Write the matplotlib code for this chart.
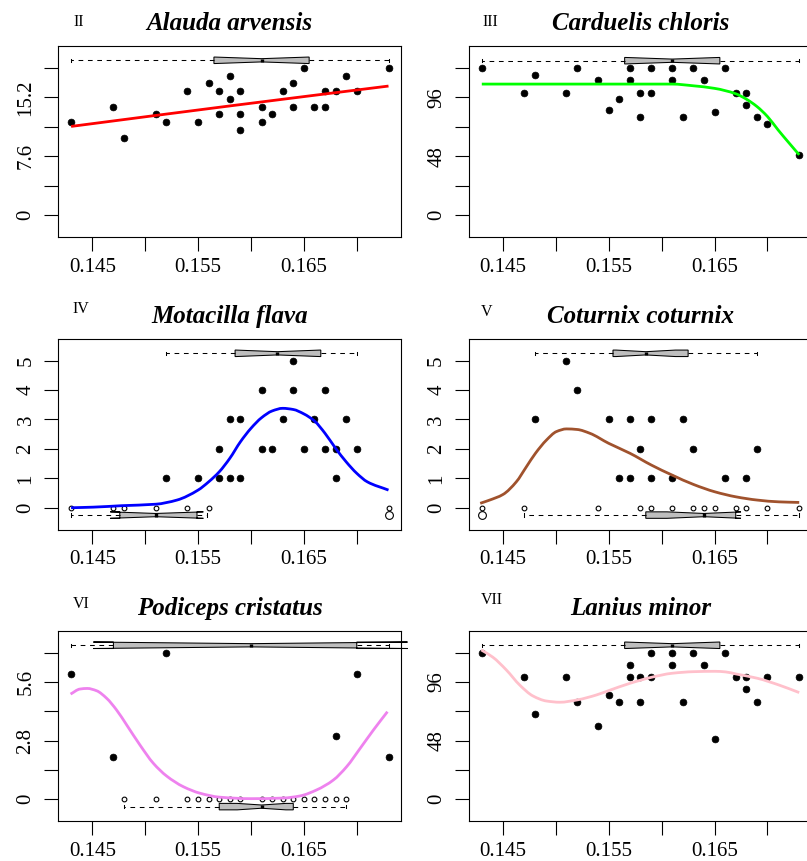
import matplotlib
matplotlib.use("Agg")
import matplotlib.pyplot as plt
from matplotlib.ticker import FixedLocator, FixedFormatter
from matplotlib.path import Path
from matplotlib.patches import PathPatch

plt.rcParams['font.family'] = ['Liberation Serif', 'DejaVu Serif']

# ------------------------------------------------------------------ data
titles = ["Alauda arvensis", "Carduelis chloris", "Motacilla flava",
          "Coturnix coturnix", "Podiceps cristatus", "Lanius minor"]
panel_labels = ["II", "III", "IV", "V", "VI", "VII"]
curve_colors = ["#FF0000", "#00FF00", "#0000FF", "#A0522D", "#EE82EE", "#FFC0CB"]

x_ticks = [0.145, 0.150, 0.155, 0.160, 0.165, 0.170]
x_ticklabels = ["0.145", "", "0.155", "", "0.165", ""]

# Alauda arvensis
alauda_x = [0.143, 0.147, 0.148, 0.151, 0.152, 0.154, 0.155, 0.156, 0.157, 0.157,
            0.158, 0.158, 0.159, 0.159, 0.159, 0.161, 0.161, 0.162, 0.163, 0.164,
            0.164, 0.165, 0.166, 0.167, 0.167, 0.168, 0.169, 0.170, 0.173]
alauda_y = [12, 14, 10, 13, 12, 16, 12, 17, 16, 13,
            18, 15, 16, 13, 11, 14, 12, 13, 16, 17,
            14, 19, 14, 16, 14, 16, 18, 16, 19]
alauda_curve_x = [0.143, 0.158, 0.173]
alauda_curve_y = [11.45, 14.1, 16.67]
alauda_yticks = [0, 3.8, 7.6, 11.4, 15.2, 19]
alauda_yticklabels = ["0", "", "7.6", "", "15.2", ""]
alauda_box = dict(whislo=0.143, q1=0.1565, med=0.161, q3=0.1655, whishi=0.173,
                  cilo=0.1566, cihi=0.1654, fliers=[])

# Carduelis chloris
carduelis_x = [0.143, 0.147, 0.148, 0.151, 0.152, 0.154, 0.155, 0.156, 0.157, 0.157,
               0.158, 0.158, 0.159, 0.159, 0.161, 0.161, 0.162, 0.163, 0.164, 0.165,
               0.166, 0.167, 0.168, 0.168, 0.169, 0.170, 0.173]
carduelis_y = [120, 100, 114, 100, 120, 110, 86, 95, 120, 110,
               100, 80, 120, 100, 120, 110, 80, 120, 110, 84.5,
               120, 100, 100, 90, 80, 74.5, 49]
carduelis_curve_x = [0.143, 0.161, 0.163, 0.165, 0.167, 0.168, 0.169, 0.170, 0.171, 0.172, 0.173]
carduelis_curve_y = [106.9, 106.9, 105.5, 103.4, 99.0, 94.6, 88.6, 80.4, 69.5, 59.2, 49.1]
carduelis_yticks = [0, 24, 48, 72, 96, 120]
carduelis_yticklabels = ["0", "", "48", "", "96", ""]
carduelis_box = dict(whislo=0.143, q1=0.1565, med=0.161, q3=0.1655, whishi=0.173,
                     cilo=0.1566, cihi=0.1654, fliers=[])

# Motacilla flava
motacilla_x = [0.152, 0.155, 0.157, 0.157, 0.158, 0.158, 0.159, 0.159, 0.161, 0.161, 0.162,
               0.163, 0.164, 0.164, 0.165, 0.166, 0.167, 0.167, 0.168, 0.168, 0.169, 0.170]
motacilla_y = [1, 1, 2, 1, 3, 1, 3, 1, 4, 2, 2,
               3, 5, 4, 2, 3, 4, 2, 2, 1, 3, 2]
motacilla_absent_x = [0.143, 0.147, 0.148, 0.151, 0.154, 0.156, 0.173]
motacilla_curve_x = [0.143, 0.1451, 0.1478, 0.151, 0.153, 0.155, 0.156, 0.157, 0.158, 0.159,
                     0.160, 0.161, 0.162, 0.163, 0.164, 0.165, 0.166, 0.167, 0.168, 0.169,
                     0.170, 0.171, 0.173]
motacilla_curve_y = [0.0, 0.02, 0.07, 0.12, 0.26, 0.6, 0.88, 1.22, 1.68, 2.24,
                     2.7, 3.06, 3.29, 3.38, 3.34, 3.19, 2.95, 2.53, 2.02, 1.56,
                     1.17, 0.88, 0.6]
motacilla_yticks = [0, 1, 2, 3, 4, 5]
motacilla_yticklabels = ["0", "1", "2", "3", "4", "5"]
motacilla_box_present = dict(whislo=0.152, q1=0.1585, med=0.1625, q3=0.1666, whishi=0.170,
                             cilo=0.1586, cihi=0.1665, fliers=[])
motacilla_box_absent = dict(whislo=0.143, q1=0.1476, med=0.151, q3=0.1549, whishi=0.1558,
                            cilo=0.1467, cihi=0.1555, fliers=[0.173])

# Coturnix coturnix
coturnix_x = [0.148, 0.151, 0.152, 0.155, 0.156, 0.157, 0.157, 0.158, 0.159, 0.159,
              0.161, 0.162, 0.163, 0.166, 0.168, 0.169]
coturnix_y = [3, 5, 4, 3, 1, 3, 1, 2, 3, 1,
              1, 3, 2, 1, 1, 2]
coturnix_absent_x = [0.143, 0.147, 0.154, 0.158, 0.159, 0.161, 0.163, 0.164, 0.165,
                     0.167, 0.168, 0.170, 0.173]
coturnix_curve_x = [0.14285, 0.14374, 0.1450, 0.14626, 0.14721, 0.14807, 0.14911, 0.15006,
                    0.15101, 0.15202, 0.15322, 0.15499, 0.15701, 0.15903, 0.16099, 0.16302,
                    0.16504, 0.16703, 0.16905, 0.17108, 0.173]
coturnix_curve_y = [0.15, 0.26, 0.45, 0.88, 1.39, 1.85, 2.30, 2.59,
                    2.68, 2.66, 2.53, 2.19, 1.85, 1.45, 1.11, 0.79,
                    0.54, 0.37, 0.26, 0.20, 0.18]
coturnix_yticks = [0, 1, 2, 3, 4, 5]
coturnix_yticklabels = ["0", "1", "2", "3", "4", "5"]
coturnix_box_present = dict(whislo=0.148, q1=0.1554, med=0.1585, q3=0.1625, whishi=0.169,
                            cilo=0.1557, cihi=0.1613, fliers=[])
coturnix_box_absent = dict(whislo=0.147, q1=0.1585, med=0.164, q3=0.167, whishi=0.173,
                           cilo=0.1605, cihi=0.1675, fliers=[0.143])

# Podiceps cristatus
podiceps_x = [0.143, 0.147, 0.152, 0.168, 0.170, 0.173]
podiceps_y = [6, 2, 7, 3, 6, 2]
podiceps_absent_x = [0.148, 0.151, 0.154, 0.155, 0.156, 0.157, 0.158, 0.159, 0.161,
                     0.162, 0.163, 0.164, 0.165, 0.166, 0.167, 0.168, 0.169]
podiceps_curve_x = [0.14295, 0.14383, 0.14453, 0.14541, 0.14636, 0.1473, 0.14825, 0.14951,
                    0.15077, 0.15203, 0.15361, 0.15518, 0.15707, 0.16001, 0.16306, 0.16464,
                    0.16622, 0.16779, 0.16905, 0.17032, 0.17158, 0.1729]
podiceps_curve_y = [5.02, 5.26, 5.29, 5.18, 4.82, 4.26, 3.55, 2.59,
                    1.72, 1.11, 0.60, 0.29, 0.10, 0.03, 0.06, 0.16,
                    0.45, 0.92, 1.56, 2.43, 3.31, 4.18]
podiceps_yticks = [0, 1.4, 2.8, 4.2, 5.6, 7]
podiceps_yticklabels = ["0", "", "2.8", "", "5.6", ""]
podiceps_box_present = dict(whislo=0.143, q1=0.147, med=0.160, q3=0.170, whishi=0.173,
                            cilo=0.1451, cihi=0.1748, fliers=[])
podiceps_box_absent = dict(whislo=0.148, q1=0.157, med=0.161, q3=0.164, whishi=0.169,
                           cilo=0.1587, cihi=0.1633, fliers=[])

# Lanius minor
lanius_x = [0.143, 0.147, 0.148, 0.151, 0.152, 0.154, 0.155, 0.156, 0.157, 0.157,
            0.158, 0.158, 0.159, 0.159, 0.161, 0.161, 0.162, 0.163, 0.164, 0.165,
            0.166, 0.167, 0.168, 0.168, 0.169, 0.170, 0.173]
lanius_y = [120, 100, 70, 100, 80, 60, 85, 80, 110, 100,
            100, 80, 120, 100, 120, 110, 80, 120, 110, 49,
            120, 100, 100, 90, 80, 100, 100]
lanius_curve_x = [0.14295, 0.14405, 0.14532, 0.14658, 0.14784, 0.14911, 0.15037, 0.15202,
                  0.15385, 0.15499, 0.15701, 0.15903, 0.16099, 0.16302, 0.16504, 0.16605,
                  0.16703, 0.16905, 0.17108, 0.173]
lanius_curve_y = [122.2, 116.2, 105.8, 93.5, 84.5, 80.4, 79.4, 81.3,
                  85.4, 88.9, 94.9, 99.8, 103.1, 104.4, 104.7, 104.2,
                  102.5, 99.0, 93.5, 87.3]
lanius_yticks = [0, 24, 48, 72, 96, 120]
lanius_yticklabels = ["0", "", "48", "", "96", ""]
lanius_box = dict(whislo=0.143, q1=0.1565, med=0.161, q3=0.1655, whishi=0.173,
                  cilo=0.1566, cihi=0.1654, fliers=[])


# ------------------------------------------------------------------ helpers
def smooth_path(xs, ys):
    """Smooth (monotone cubic, Bezier) path through the read curve points."""
    n = len(xs)
    h = [xs[k + 1] - xs[k] for k in range(n - 1)]
    d = [(ys[k + 1] - ys[k]) / h[k] for k in range(n - 1)]
    m = [0.0] * n
    m[0], m[-1] = d[0], d[-1]
    for k in range(1, n - 1):
        if d[k - 1] * d[k] <= 0:
            m[k] = 0.0
        else:
            w1 = 2 * h[k] + h[k - 1]
            w2 = h[k] + 2 * h[k - 1]
            m[k] = (w1 + w2) / (w1 / d[k - 1] + w2 / d[k])
    verts = [(xs[0], ys[0])]
    codes = [Path.MOVETO]
    for k in range(n - 1):
        hk = h[k]
        verts += [(xs[k] + hk / 3, ys[k] + m[k] * hk / 3),
                  (xs[k + 1] - hk / 3, ys[k + 1] - m[k + 1] * hk / 3),
                  (xs[k + 1], ys[k + 1])]
        codes += [Path.CURVE4] * 3
    return Path(verts, codes)


# ------------------------------------------------------------------ layout
W, H = 807, 861
fig = plt.figure(figsize=(W / 100, H / 100), dpi=100)
fig.patch.set_facecolor("white")

cols = [(58.4, 401.2), (469.1, 811.9)]
rows = [(46.3, 236.7), (338.9, 529.5), (630.9, 821.0)]
label_pos = [(73, 26.5), (482.3, 26.5), (72.7, 313), (480.7, 316.5), (73.3, 608), (481.3, 604)]
XLIM = (0.1418, 0.1742)

panels = [
    dict(x=alauda_x, y=alauda_y, absent=None, cx=alauda_curve_x, cy=alauda_curve_y,
         yt=alauda_yticks, ytl=alauda_yticklabels, ylim=(-2.81, 21.81),
         boxes=[(alauda_box, 20.0)]),
    dict(x=carduelis_x, y=carduelis_y, absent=None, cx=carduelis_curve_x, cy=carduelis_curve_y,
         yt=carduelis_yticks, ytl=carduelis_yticklabels, ylim=(-17.76, 137.76),
         boxes=[(carduelis_box, 126.0)]),
    dict(x=motacilla_x, y=motacilla_y, absent=motacilla_absent_x, cx=motacilla_curve_x,
         cy=motacilla_curve_y, yt=motacilla_yticks, ytl=motacilla_yticklabels, ylim=(-0.74, 5.74),
         boxes=[(motacilla_box_present, 5.25), (motacilla_box_absent, -0.25)]),
    dict(x=coturnix_x, y=coturnix_y, absent=coturnix_absent_x, cx=coturnix_curve_x,
         cy=coturnix_curve_y, yt=coturnix_yticks, ytl=coturnix_yticklabels, ylim=(-0.74, 5.74),
         boxes=[(coturnix_box_present, 5.25), (coturnix_box_absent, -0.25)]),
    dict(x=podiceps_x, y=podiceps_y, absent=podiceps_absent_x, cx=podiceps_curve_x,
         cy=podiceps_curve_y, yt=podiceps_yticks, ytl=podiceps_yticklabels, ylim=(-1.036, 8.036),
         boxes=[(podiceps_box_present, 7.35), (podiceps_box_absent, -0.35)]),
    dict(x=lanius_x, y=lanius_y, absent=None, cx=lanius_curve_x, cy=lanius_curve_y,
         yt=lanius_yticks, ytl=lanius_yticklabels, ylim=(-17.76, 137.76),
         boxes=[(lanius_box, 126.0)]),
]

for i, p in enumerate(panels):
    r, c = divmod(i, 2)
    left, right = cols[c]
    top, bottom = rows[r]
    ax = fig.add_axes([left / W, 1 - bottom / H, (right - left) / W, (bottom - top) / H])
    ax.set_xlim(*XLIM)
    ax.set_ylim(*p["ylim"])

    # points
    ax.plot(p["x"], p["y"], linestyle="none", marker="o", markersize=4.9,
            markerfacecolor="black", markeredgecolor="black", markeredgewidth=0.5, zorder=3)
    if p["absent"] is not None:
        ax.plot(p["absent"], [0] * len(p["absent"]), linestyle="none", marker="o",
                markersize=3.4, markerfacecolor="white", markeredgecolor="black",
                markeredgewidth=0.8, zorder=3)
    # fitted curve
    ax.add_patch(PathPatch(smooth_path(p["cx"], p["cy"]), facecolor="none",
                           edgecolor=curve_colors[i], linewidth=2.0, zorder=4,
                           capstyle="butt"))

    # box plots
    span = p["ylim"][1] - p["ylim"][0]
    w = 0.034 * span
    for st, pos in p["boxes"]:
        kw = dict(positions=[pos], widths=[w], shownotches=True, patch_artist=True,
                  manage_ticks=False, capwidths=[w * 0.5],
                  boxprops=dict(facecolor="#BEBEBE", edgecolor="black", linewidth=0.75),
                  whiskerprops=dict(color="black", linewidth=0.75, linestyle=(0, (4.5, 4.5))),
                  capprops=dict(color="black", linewidth=0.75),
                  medianprops=dict(color="black", linewidth=2.4, solid_capstyle="butt"),
                  flierprops=dict(marker="o", markerfacecolor="none", markeredgecolor="black",
                                  markersize=5.6, markeredgewidth=0.8, linestyle="none"),
                  zorder=5)
        try:
            arts = ax.bxp([st], orientation="horizontal", **kw)
        except TypeError:
            arts = ax.bxp([st], vert=False, **kw)
        for key, lst in arts.items():
            for a in lst:
                a.set_clip_on(False)

    # axes styling
    for s in ax.spines.values():
        s.set_linewidth(0.8)
        s.set_color("black")
    ax.xaxis.set_major_locator(FixedLocator(x_ticks))
    ax.xaxis.set_major_formatter(FixedFormatter(x_ticklabels))
    ax.yaxis.set_major_locator(FixedLocator(p["yt"]))
    ax.yaxis.set_major_formatter(FixedFormatter(p["ytl"]))
    ax.tick_params(axis="both", direction="out", length=10, width=0.8, labelsize=15,
                   colors="black")
    ax.tick_params(axis="x", pad=5)
    ax.tick_params(axis="y", pad=6.5)
    for lab in ax.get_yticklabels():
        lab.set_rotation(90)
        lab.set_va("center")

    ax.set_title(titles[i], fontsize=18, fontweight="bold", fontstyle="italic", pad=11.5)
    lx, ly = label_pos[i]
    fig.text(lx / W, 1 - ly / H, panel_labels[i], fontsize=11.5, ha="left", va="baseline")

fig.savefig("out.png", dpi=100, facecolor="white")
